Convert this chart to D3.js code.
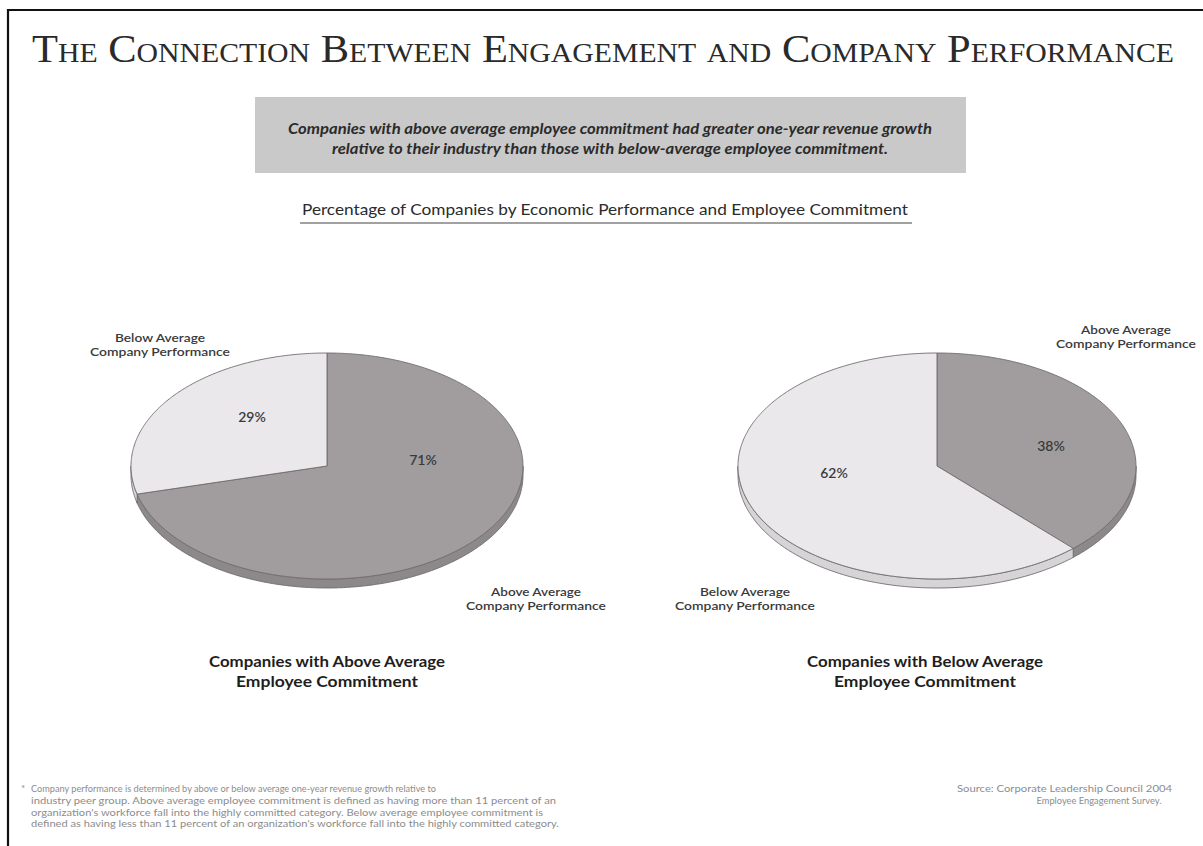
<!DOCTYPE html>
<html>
<head>
<meta charset="utf-8">
<script src="https://cdn.jsdelivr.net/npm/d3@7"></script>
<style>
  html, body { margin: 0; padding: 0; background: #fff; }
  svg { display: block; }
  .gill { font-family: Lato, "Open Sans", sans-serif; }
</style>
</head>
<body>
<svg id="chart" width="1203" height="846"></svg>
<script>
// Chart content
const titleText = "The Connection Between Engagement and Company Performance";
const calloutLines = [
  "Companies with above average employee commitment had greater one-year revenue growth",
  "relative to their industry than those with below-average employee commitment."
];
const subtitleText = "Percentage of Companies by Economic Performance and Employee Commitment";

// Slice categories (drawn clockwise from 12 o'clock)
const categories = ["Above Average Company Performance", "Below Average Company Performance"];
// Share of companies (%) in each commitment group
const aboveCommitment = [71, 29];
const belowCommitment = [38, 62];
const groupTitles = [
  ["Companies with Above Average", "Employee Commitment"],
  ["Companies with Below Average", "Employee Commitment"]
];

const footnoteLines = [
  "Company performance is determined by above or below average one-year revenue growth relative to",
  "industry peer group. Above average employee commitment is defined as having more than 11 percent of an",
  "organization's workforce fall into the highly committed category. Below average employee commitment is",
  "defined as having less than 11 percent of an organization's workforce fall into the highly committed category."
];
const sourceLines = ["Source:  Corporate Leadership Council 2004", "Employee Engagement Survey."];

const svg = d3.select("#chart");

// Frame (top rule and left rule)
svg.append("line").attr("x1", 8).attr("x2", 1203).attr("y1", 10).attr("y2", 10)
  .attr("stroke", "#111").attr("stroke-width", 2.2);
svg.append("line").attr("x1", 8).attr("x2", 8).attr("y1", 9).attr("y2", 846)
  .attr("stroke", "#111").attr("stroke-width", 2.2);

// Title
svg.append("text")
  .attr("x", 603).attr("y", 62)
  .attr("text-anchor", "middle")
  .style("font-family", "'Liberation Serif', 'DejaVu Serif', serif")
  .style("font-variant", "small-caps")
  .style("font-size", "40px")
  .attr("fill", "#2a2a2a")
  .attr("textLength", 1142).attr("lengthAdjust", "spacingAndGlyphs")
  .text(titleText);

// Callout box
svg.append("rect").attr("x", 255).attr("y", 97).attr("width", 711).attr("height", 76)
  .attr("fill", "#c9c9c9");
const calloutWidths = [644, 556];
svg.selectAll("text.callout").data(calloutLines).join("text")
  .attr("class", "callout gill")
  .attr("x", 610).attr("y", (d, i) => 134 + i * 20)
  .attr("text-anchor", "middle")
  .style("font-size", "15px").style("font-weight", "bold").style("font-style", "italic")
  .attr("fill", "#2b2b2b")
  .attr("textLength", (d, i) => calloutWidths[i]).attr("lengthAdjust", "spacingAndGlyphs")
  .text(d => d);

// Subtitle with underline
svg.append("text").attr("class", "gill")
  .attr("x", 605).attr("y", 215).attr("text-anchor", "middle")
  .style("font-size", "15px").attr("fill", "#2b2b2b")
  .attr("textLength", 606).attr("lengthAdjust", "spacingAndGlyphs")
  .text(subtitleText);
svg.append("line").attr("x1", 300).attr("x2", 912).attr("y1", 223).attr("y2", 223)
  .attr("stroke", "#444").attr("stroke-width", 1);

// 3D-style pies
const fills = { top: ["#a19d9f", "#eae8ea"], side: ["#8d898b", "#d6d4d6"] };
const pieGen = d3.pie().sort(null).value(d => d);

function drawPie(values, cx, cy, rx, ry, depth, labelPos) {
  const g = svg.append("g");
  const arcs = pieGen(values);
  const pt = (a, dy = 0) => [cx + rx * Math.sin(a), cy - ry * Math.cos(a) + dy];
  const line = d3.line();
  const sample = (a0, a1, dy) => {
    const n = Math.max(2, Math.ceil(Math.abs(a1 - a0) / 0.01));
    return d3.range(n + 1).map(i => pt(a0 + (a1 - a0) * i / n, dy));
  };

  // Rim: visible where the edge faces the viewer (lower half of the ellipse)
  arcs.forEach((d, i) => {
    const a0 = Math.max(d.startAngle, Math.PI / 2);
    const a1 = Math.min(d.endAngle, 3 * Math.PI / 2);
    if (a1 <= a0) return;
    const pts = sample(a0, a1, 0).concat(sample(a1, a0, depth));
    g.append("path").attr("d", line(pts) + "Z")
      .attr("fill", fills.side[i]).attr("stroke", "#6e6c6d").attr("stroke-width", 0.9);
  });

  // Top faces
  arcs.forEach((d, i) => {
    const pts = [[cx, cy]].concat(sample(d.startAngle, d.endAngle, 0));
    g.append("path").attr("d", line(pts) + "Z")
      .attr("fill", fills.top[i]).attr("stroke", "#6e6c6d").attr("stroke-width", 0.9)
      .attr("stroke-linejoin", "round");
  });

  // Percent labels
  arcs.forEach((d, i) => {
    g.append("text").attr("class", "gill")
      .attr("x", labelPos[i][0]).attr("y", labelPos[i][1])
      .attr("text-anchor", "middle")
      .style("font-size", "14px").style("font-weight", "600")
      .attr("fill", "#3a3a3a")
      .text(d.data + "%");
  });
  return g;
}

drawPie(aboveCommitment, 327, 466, 196, 113, 9, [[423, 465], [252, 422]]);
drawPie(belowCommitment, 937, 466, 199, 113, 9, [[1051, 451], [834, 478]]);

// Category callouts around the pies
function catLabel(cat, x, y) {
  const words = cat.split(" ");
  const lines = [words.slice(0, 2).join(" "), words.slice(2).join(" ")];
  svg.append("g").selectAll("text").data(lines).join("text")
    .attr("class", "gill")
    .attr("x", x).attr("y", (d, i) => y + i * 14)
    .attr("text-anchor", "middle")
    .style("font-size", "12px").style("font-weight", "600")
    .attr("fill", "#3a3a3a")
    .attr("textLength", (d, i) => i === 0 ? 90 : 140).attr("lengthAdjust", "spacingAndGlyphs")
    .text(d => d);
}
catLabel(categories[1], 160, 342);
catLabel(categories[0], 536, 596);
catLabel(categories[0], 1126, 334);
catLabel(categories[1], 745, 596);

// Group titles under each pie
[[327, groupTitles[0]], [925, groupTitles[1]]].forEach(([x, lines]) => {
  svg.append("g").selectAll("text").data(lines).join("text")
    .attr("class", "gill")
    .attr("x", x).attr("y", (d, i) => 667 + i * 20)
    .attr("text-anchor", "middle")
    .style("font-size", "16px").style("font-weight", "bold")
    .attr("fill", "#1e1e1e")
    .attr("textLength", (d, i) => i === 0 ? 236 : 182).attr("lengthAdjust", "spacingAndGlyphs")
    .text(d => d);
});

// Footnote
svg.append("text").attr("class", "gill").attr("x", 21).attr("y", 792)
  .style("font-size", "10px").attr("fill", "#8c8c8c").text("*");
const footWidths = [405, 525, 512, 528];
svg.append("g").selectAll("text").data(footnoteLines).join("text")
  .attr("class", "gill")
  .attr("x", 31).attr("y", (d, i) => 792 + i * 11.8)
  .style("font-size", "10px").attr("fill", "#8c8c8c")
  .attr("textLength", (d, i) => footWidths[i]).attr("lengthAdjust", "spacingAndGlyphs")
  .text(d => d);

// Source
svg.append("g").selectAll("text").data(sourceLines).join("text")
  .attr("class", "gill")
  .attr("x", (d, i) => i === 0 ? 1172 : 1099)
  .attr("y", (d, i) => 792 + i * 12)
  .attr("text-anchor", (d, i) => i === 0 ? "end" : "middle")
  .style("font-size", "10px").attr("fill", "#8c8c8c")
  .attr("textLength", (d, i) => i === 0 ? 215 : 125).attr("lengthAdjust", "spacingAndGlyphs")
  .text(d => d);
</script>
</body>
</html>
